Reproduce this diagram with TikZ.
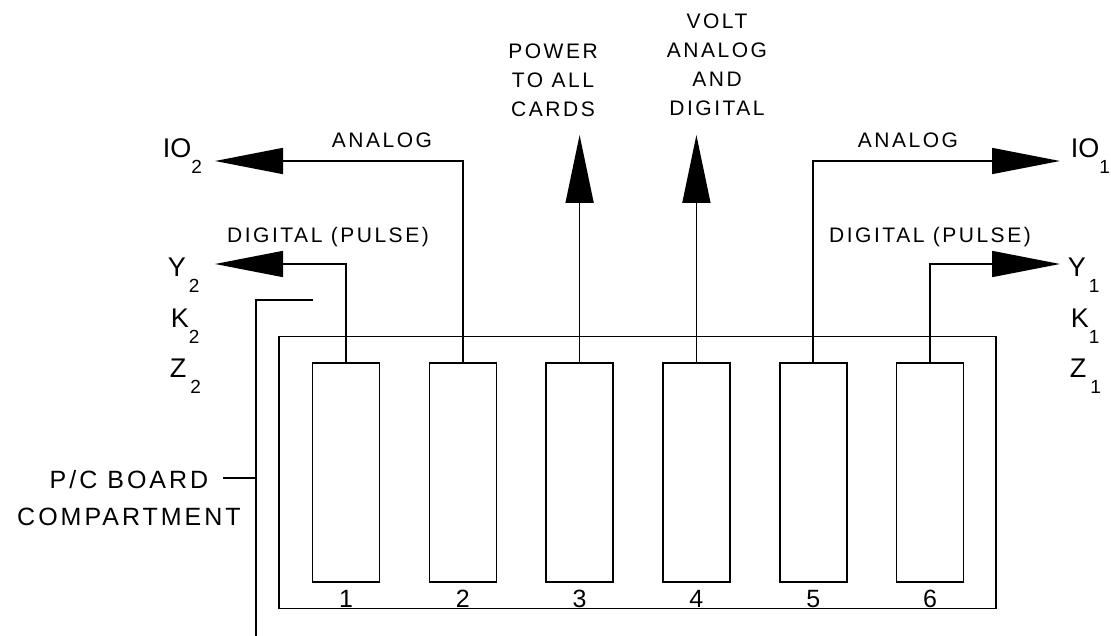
\documentclass[tikz,border=0pt]{standalone}
\usepackage{fontspec}
\setmainfont{Liberation Sans}[LetterSpace=12]
\newfontfamily\labfont{Liberation Sans}
\usetikzlibrary{arrows.meta}
\newcommand\sublab[3]{{\labfont\fontsize{27}{27}\selectfont #1\hspace{#3}\raisebox{-16pt}{\fontsize{19}{19}\selectfont #2}}}
\begin{document}
\begin{tikzpicture}[x=1pt,y=-1pt,line width=1.6pt,
  card/.style={draw,minimum width=67pt,minimum height=219pt,inner sep=0pt,outer sep=0pt},
  smalltext/.style={font=\fontsize{21}{29}\selectfont,inner sep=0pt},
  smallblock/.style={font=\fontsize{21}{29}\selectfont,inner sep=0pt,align=center,anchor=north},
  sig/.style={inner sep=0pt,anchor=base west},
  num/.style={font=\fontsize{25}{25}\selectfont,inner sep=0pt,anchor=base},
  outarrow/.style={-{Triangle[length=68pt,width=26pt]}},
  uparrow/.style={-{Triangle[length=68pt,width=28pt]}}
]
\useasboundingbox (0,0) rectangle (1111,636);

% compartment and cards
\node[draw,minimum width=717pt,minimum height=272pt,inner sep=0pt,outer sep=0pt] (box) at (637.5,472.5) {};
\foreach \i/\x in {1/346,2/462.8,3/579.6,4/696.4,5/813.2,6/930}{
  \node[card] (c\i) at (\x,472.5) {};
  \node[num] (n\i) at (\x,607) {\i};
}

% labels
\node[smalltext,anchor=base] (an2) at (382,148) {ANALOG};
\node[smalltext,anchor=base] (an1) at (908,148) {ANALOG};
\node[smalltext,anchor=base] (dg2) at (328,243) {DIGITAL (PULSE)};
\node[smalltext,anchor=base] (dg1) at (930,243) {DIGITAL (PULSE)};
\node[smallblock] (pwr) at (553,43) {POWER\\TO ALL\\CARDS};
\node[smallblock] (volt) at (717,13) {VOLT\\ANALOG\\AND\\DIGITAL};

\node[sig] (io2) at (162,158) {\sublab{IO}{2}{0pt}};
\node[sig] (y2) at (167,277) {\sublab{Y}{2}{3pt}};
\node[sig] (k2) at (170,327) {\sublab{K}{2}{0pt}};
\node[sig] (z2) at (169,377) {\sublab{Z}{2}{4pt}};
\node[sig] (io1) at (1070,158) {\sublab{IO}{1}{0pt}};
\node[sig] (y1) at (1067,277) {\sublab{Y}{1}{3pt}};
\node[sig] (k1) at (1070,327) {\sublab{K}{1}{0pt}};
\node[sig] (z1) at (1069,377) {\sublab{Z}{1}{4pt}};

\node[inner sep=0pt,align=center,anchor=north,font=\fontsize{25}{37}\selectfont] (pc) at (129,470) {P/C BOARD\\COMPARTMENT};

% connectors
\coordinate (io2tip) at (215,161);
\coordinate (y2tip) at (215,264);
\coordinate (pwrtip) at (579.6,135);
\coordinate (volttip) at (696.4,135);
\coordinate (io1tip) at (1060,161);
\coordinate (y1tip) at (1060,264);
\draw[outarrow] (c2.north) |- (io2tip);
\draw[outarrow] (c1.north) |- (y2tip);
\draw[uparrow] (c3.north) -- (pwrtip);
\draw[uparrow] (c4.north) -- (volttip);
\draw[outarrow] (c5.north) |- (io1tip);
\draw[outarrow] (c6.north) |- (y1tip);

% leader lines
\coordinate (kend) at (313,300);
\coordinate (kfoot) at (256,636);
\coordinate (pcstart) at (223,478);
\draw (kend) -| (kfoot);
\draw (pcstart) -- (kfoot |- pcstart);
\end{tikzpicture}
\end{document}
